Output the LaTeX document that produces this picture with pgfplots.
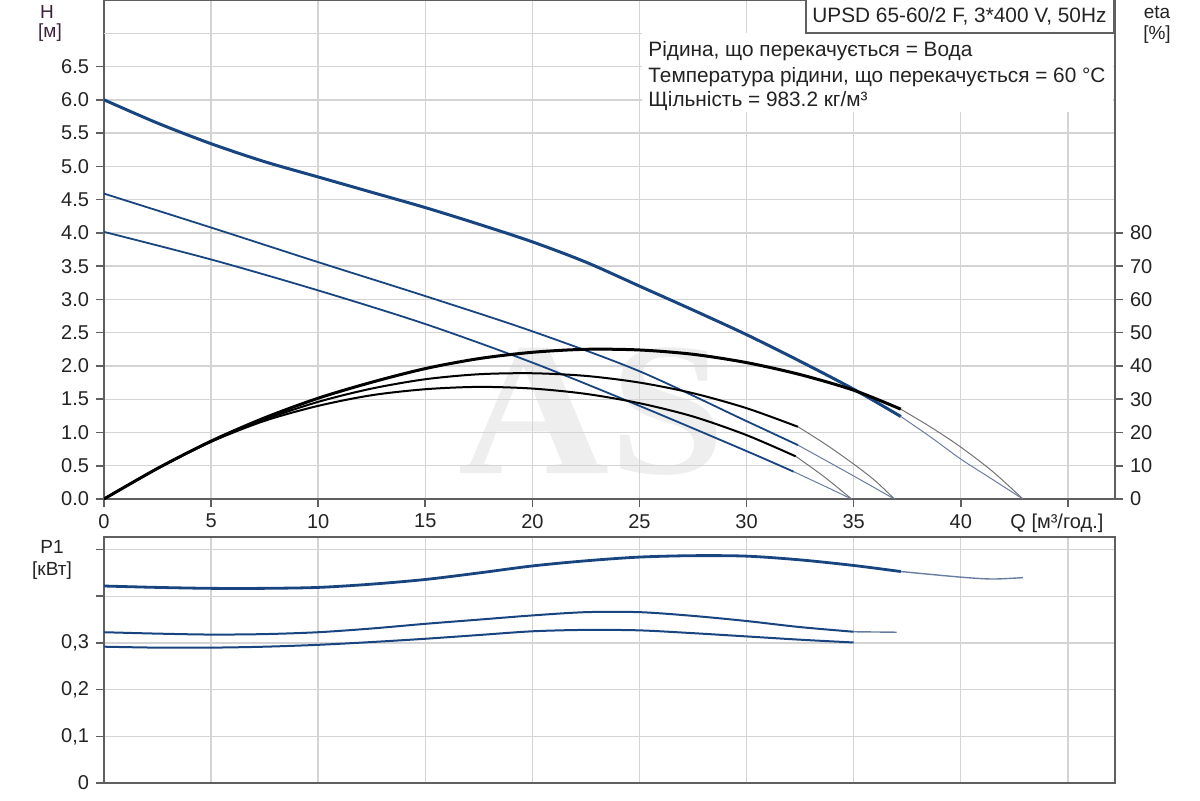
\documentclass[border=0pt]{standalone}
\usepackage{pgfplots}
\pgfplotsset{compat=1.18}
\usepackage{fontspec}
\setmainfont{Liberation Sans}
\newfontfamily\wmfont{Liberation Serif}
\definecolor{pblue}{RGB}{24,68,128}
\definecolor{gridc}{RGB}{212,212,212}
\definecolor{axc}{RGB}{95,95,95}
\definecolor{txtc}{RGB}{35,35,35}
\definecolor{labc}{RGB}{60,32,60}
\definecolor{thinb}{RGB}{105,125,160}
\definecolor{thing}{RGB}{115,115,115}
\definecolor{wm}{RGB}{238,238,238}
\begin{document}
\begin{tikzpicture}
\path[use as bounding box] (0,0) rectangle (600pt,400pt);
% watermark
\node[text=wm, font=\wmfont\bfseries\fontsize{95}{95}\selectfont] at (296pt,194pt) {\scalebox{1.1}[1]{AS}};
\pgfplotsset{
  every axis/.append style={
    scale only axis,
    font=\fontsize{10}{12}\selectfont,
    /pgf/number format/assume math mode=true,
    tick label style={text=txtc},
    axis line style={axc, line width=1.1pt},
    tick style={axc, line width=0.8pt},
    major tick length=4pt,
    tick align=outside,
  }
}
% ---------- top axis: H ----------
\begin{axis}[
  at={(52pt,150.5pt)}, anchor=south west,
  width=505.5pt, height=249.5pt,
  xmin=0, xmax=47.2, ymin=0, ymax=7.5,
  xtick={0,5,10,15,20,25,30,35,40,45},
  xticklabels={0,5,10,15,20,25,30,35,40,{\hspace*{-11pt}Q [м³/год.]}},
  ytick={0,0.5,1,1.5,2,2.5,3,3.5,4,4.5,5,5.5,6,6.5},
  yticklabel style={/pgf/number format/.cd,fixed,fixed zerofill,precision=1,use period},
  extra y ticks={7}, extra y tick labels={},
  extra y tick style={major tick length=0pt, grid=major},
  grid=major, major grid style={gridc, line width=0.7pt},
  tick pos=left,
]
% H curve, max speed
\addplot[pblue, line width=1.5pt, smooth] coordinates {
 (0,6.0) (2.5,5.65) (5,5.34) (7.5,5.07) (10,4.84) (12.5,4.61) (15,4.38) (17.5,4.13)
 (20,3.865) (22.5,3.56) (25,3.2) (27.5,2.84) (30,2.47) (32.5,2.07) (35,1.65) (37.2,1.24)};
\addplot[thinb, line width=0.5pt, smooth] coordinates {
 (37.2,1.24) (38.6,0.93) (40,0.6) (41.5,0.29) (42.9,0)};
% H curve, speed 2
\addplot[pblue, line width=0.9pt, smooth] coordinates {
 (0,4.59) (5,4.08) (10,3.56) (15,3.05) (20,2.52) (25,1.92) (30,1.17) (32.4,0.81)};
\addplot[thinb, line width=0.5pt, smooth] coordinates {
 (32.4,0.81) (34.7,0.4) (36.9,0)};
% H curve, speed 1
\addplot[pblue, line width=0.9pt, smooth] coordinates {
 (0,4.015) (5,3.6) (10,3.135) (15,2.63) (20,2.05) (25,1.4) (30,0.72) (32.2,0.41)};
\addplot[thinb, line width=0.5pt, smooth] coordinates {
 (32.2,0.41) (33.6,0.2) (34.9,0)};
\end{axis}
% ---------- top axis: eta (right) ----------
\begin{axis}[
  at={(52pt,150.5pt)}, anchor=south west,
  width=505.5pt, height=249.5pt,
  xmin=0, xmax=47.2, ymin=0, ymax=150,
  axis y line*=right, axis x line=none,
  ytick={0,10,20,30,40,50,60,70,80},
]
\addplot[black, line width=1.5pt, smooth] coordinates {
 (0,0) (2.5,9.2) (5,17.4) (7.5,24.4) (10,30.3) (12.5,35.1) (15,39.2) (17.5,42.2) (20,44.1)
 (22.5,45.0) (25,44.8) (27.5,43.5) (30,41.0) (32.5,37.4) (35,32.7) (37.2,27.0)};
\addplot[thing, line width=0.5pt, smooth] coordinates {
 (37.2,27.0) (38.6,21.6) (40,15.6) (41.5,8.2) (42.9,0)};
\addplot[black, line width=1pt, smooth] coordinates {
 (0,0) (2.5,9.2) (5,17.3) (7.5,23.9) (10,29.2) (12.5,33.2) (15,36.0) (17.5,37.5) (20,37.8)
 (22.5,37.0) (25,35.0) (27.5,31.8) (30,27.3) (32.4,21.7)};
\addplot[thing, line width=0.5pt, smooth] coordinates {
 (32.4,21.7) (33.7,16.4) (35,10.5) (36,5.5) (36.9,0)};
\addplot[black, line width=1pt, smooth] coordinates {
 (0,0) (2.5,9.2) (5,17.2) (7.5,23.5) (10,28.0) (12.5,31.2) (15,33.0) (17.5,33.7) (20,33.2)
 (22.5,31.6) (25,28.8) (27.5,24.8) (30,19.2) (32.3,12.8)};
\addplot[thing, line width=0.5pt, smooth] coordinates {
 (32.3,12.8) (33.6,6.8) (34.9,0)};
\end{axis}
% ---------- bottom axis: P1 ----------
\begin{axis}[
  at={(52pt,8.5pt)}, anchor=south west,
  width=505.5pt, height=123pt,
  xmin=0, xmax=47.2, ymin=0, ymax=0.527,
  xtick={0,5,10,15,20,25,30,35,40,45}, xticklabels={},
  xtick style={draw=none},
  ytick={0,0.1,0.2,0.3,0.4,0.5},
  yticklabels={0,{0,1},{0,2},{0,3},{},{}},
  grid=major, major grid style={gridc, line width=0.7pt},
  tick pos=left,
]
\addplot[pblue, line width=1.4pt, smooth] coordinates {
 (0,0.422) (2.5,0.419) (5,0.417) (7.5,0.417) (10,0.419) (12.5,0.426) (15,0.436) (17.5,0.45)
 (20,0.465) (22.5,0.476) (25,0.484) (27.5,0.487) (30,0.486) (32.5,0.478) (35,0.466) (37.2,0.453)};
\addplot[thinb, line width=0.7pt, smooth] coordinates {
 (37.2,0.453) (40,0.441) (41.5,0.437) (42.9,0.44)};
\addplot[pblue, line width=1pt, smooth] coordinates {
 (0,0.323) (2.5,0.32) (5,0.318) (7.5,0.319) (10,0.323) (12.5,0.331) (15,0.341) (17.5,0.35)
 (20,0.359) (22.5,0.366) (25,0.366) (27.5,0.358) (30,0.347) (32.5,0.334) (35,0.324)};
\addplot[thinb, line width=0.7pt] coordinates {
 (35,0.324) (37,0.323)};
\addplot[pblue, line width=1pt, smooth] coordinates {
 (0,0.292) (2.5,0.29) (5,0.29) (7.5,0.292) (10,0.296) (12.5,0.302) (15,0.309) (17.5,0.317)
 (20,0.325) (22.5,0.328) (25,0.327) (27.5,0.321) (30,0.314) (32.5,0.307) (35,0.301)};
\end{axis}
% ---------- info box and labels ----------
\fill[white] (321pt,344pt) rectangle (556.4pt,383.5pt);
\draw[axc, line width=0.8pt, fill=white] (403pt,383.5pt) rectangle (557pt,400.5pt);
\node[anchor=west, inner sep=0pt, text=txtc, font=\fontsize{10.4}{12}\selectfont] at (406pt,392pt) {UPSD 65-60/2 F, 3*400 V, 50Hz};
\node[anchor=base west, inner sep=0pt, text=txtc, font=\fontsize{10.4}{12}\selectfont] at (324pt,371.5pt) {Рідина, що перекачується = Вода};
\node[anchor=base west, inner sep=0pt, text=txtc, font=\fontsize{10.4}{12}\selectfont] at (324pt,359pt) {Температура рідини, що перекачується = 60 °C};
\node[anchor=base west, inner sep=0pt, text=txtc, font=\fontsize{10.4}{12}\selectfont] at (324pt,346.5pt) {Щільність = 983.2 кг/м³};
\node[text=labc, font=\fontsize{9.5}{11}\selectfont, inner sep=0pt] at (23.5pt,394pt) {H};
\node[text=labc, font=\fontsize{9.5}{11}\selectfont, inner sep=0pt] at (25pt,383.5pt) {[м]};
\node[text=txtc, font=\fontsize{9.5}{11}\selectfont, inner sep=0pt] at (578.5pt,394pt) {eta};
\node[text=txtc, font=\fontsize{9.5}{11}\selectfont, inner sep=0pt] at (578.5pt,382.5pt) {[\%]};
\node[text=txtc, font=\fontsize{9.5}{11}\selectfont, inner sep=0pt] at (26pt,126.5pt) {P1};
\node[text=txtc, font=\fontsize{9.5}{11}\selectfont, inner sep=0pt] at (26pt,114.5pt) {[кВт]};
\end{tikzpicture}
\end{document}
